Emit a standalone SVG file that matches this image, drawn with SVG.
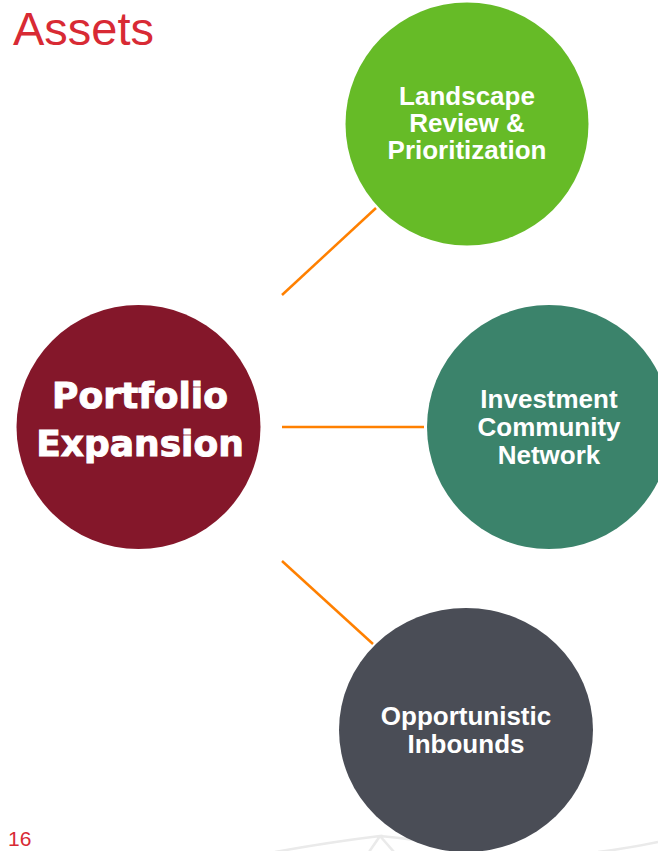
<svg xmlns="http://www.w3.org/2000/svg" width="658" height="851" viewBox="0 0 658 851">
<style>
.conn{stroke:#FF8000;stroke-width:2.5;fill:none}
.lbl{font-family:"Liberation Sans",Arial,sans-serif;font-weight:bold;font-size:26px;fill:#FFFFFF;text-anchor:middle}
.hub{font-family:"DejaVu Sans",sans-serif;font-weight:bold;font-size:36px;fill:#FFFFFF;stroke:#FFFFFF;stroke-width:1;text-anchor:middle}
.wm{stroke:#EAEAEA;stroke-width:2.5;fill:none}
</style>
<rect width="658" height="851" fill="#FFFFFF"/>
<g id="watermark">
<path class="wm" d="M275,852 Q330,842 380,836 L369,852 M380,836 L394,852 M380,836 Q430,840 470,852"/>
<path class="wm" d="M598,852 Q630,848 658,842"/>
</g>
<text x="8" y="45" font-family="Liberation Sans,Arial,sans-serif" font-size="47" fill="#D82A34" dx="5">Assets</text>
<text x="8" y="846" font-family="Liberation Sans,Arial,sans-serif" font-size="21" fill="#D82A34">16</text>
<g id="connectors">
<line class="conn" x1="282" y1="295" x2="376" y2="208"/>
<line class="conn" x1="282" y1="427" x2="424" y2="427"/>
<line class="conn" x1="282" y1="561" x2="373" y2="644"/>
</g>
<g id="node-hub">
<circle cx="138.5" cy="427" r="122" fill="#84172A"/>
<text class="hub" x="140" y="408">Portfolio</text>
<text class="hub" x="140" y="456">Expansion</text>
</g>
<g id="node-landscape">
<circle cx="467" cy="124" r="121.5" fill="#66BB27"/>
<text class="lbl" x="467" y="105">Landscape</text>
<text class="lbl" x="467" y="132">Review &amp;</text>
<text class="lbl" x="467" y="159">Prioritization</text>
</g>
<g id="node-investment">
<circle cx="549" cy="427" r="122" fill="#3B836B"/>
<text class="lbl" x="549" y="408">Investment</text>
<text class="lbl" x="549" y="436">Community</text>
<text class="lbl" x="549" y="464">Network</text>
</g>
<g id="node-opportunistic">
<ellipse cx="466" cy="730" rx="127" ry="122" fill="#4A4D56"/>
<text class="lbl" x="466" y="725">Opportunistic</text>
<text class="lbl" x="466" y="753">Inbounds</text>
</g>
</svg>
